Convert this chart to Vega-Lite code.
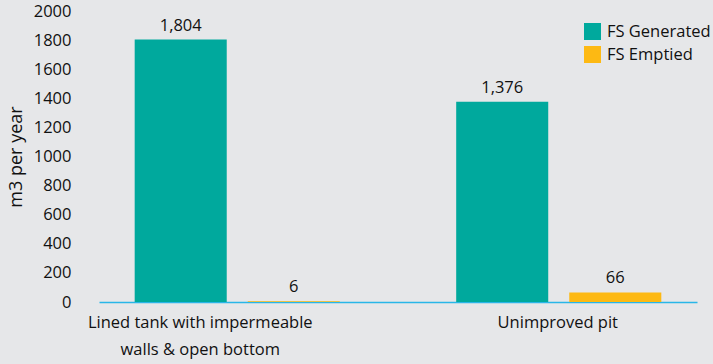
{
  "$schema": "https://vega.github.io/schema/vega-lite/v6.json",
  "width": 598,
  "height": 291,
  "autosize": "none",
  "padding": {"left": 99, "top": 11, "right": 16, "bottom": 62},
  "background": "#e6e7e9",
  "config": {
    "view": {"stroke": null},
    "font": "Open Sans",
    "axis": {"labelFont": "Open Sans", "titleFont": "Open Sans", "labelColor": "#111111", "titleColor": "#111111"},
    "legend": {"labelFont": "Open Sans", "labelColor": "#111111"}
  },
  "data": {
    "values": [
      {"type": "Lined tank with impermeable|walls & open bottom", "series": "FS Generated", "value": 1804},
      {"type": "Lined tank with impermeable|walls & open bottom", "series": "FS Emptied", "value": 6},
      {"type": "Unimproved pit", "series": "FS Generated", "value": 1376},
      {"type": "Unimproved pit", "series": "FS Emptied", "value": 66}
    ]
  },
  "encoding": {
    "x": {
      "field": "type",
      "type": "nominal",
      "sort": null,
      "scale": {"paddingInner": 0.362, "paddingOuter": 0.111},
      "axis": {
        "title": null,
        "labelAngle": 0,
        "ticks": false,
        "domainColor": "#29b6e8",
        "domainWidth": 1.5,
        "labelFontSize": 16.5,
        "labelPadding": 12,
        "labelLineHeight": 27,
        "labelBaseline": "top",
        "labelLimit": 0,
        "labelExpr": "split(datum.label, '|')",
        "labelOffset": {"condition": {"test": "indexof(datum.value, 'Lined') == 0", "value": -37}, "value": -1}
      }
    },
    "xOffset": {
      "field": "series",
      "type": "nominal",
      "sort": ["FS Generated", "FS Emptied"],
      "scale": {"paddingInner": 0.186, "paddingOuter": 0}
    },
    "y": {
      "field": "value",
      "type": "quantitative",
      "scale": {"domain": [0, 2000], "nice": false},
      "axis": {
        "title": "m3 per year",
        "values": [0, 200, 400, 600, 800, 1000, 1200, 1400, 1600, 1800, 2000],
        "format": "d",
        "grid": false,
        "domain": false,
        "ticks": false,
        "labelFontSize": 16.5,
        "labelPadding": 28,
        "titleFontSize": 18,
        "titleFontWeight": "normal",
        "titlePadding": 8
      }
    }
  },
  "layer": [
    {
      "mark": {"type": "bar"},
      "encoding": {
        "color": {
          "field": "series",
          "type": "nominal",
          "sort": ["FS Generated", "FS Emptied"],
          "scale": {"domain": ["FS Generated", "FS Emptied"], "range": ["#00a99d", "#fdb913"]},
          "legend": {
            "title": null,
            "orient": "none",
            "legendX": 485,
            "legendY": 12,
            "symbolType": "square",
            "symbolSize": 289,
            "symbolStrokeWidth": 0,
            "labelFontSize": 16.5,
            "rowPadding": 6,
            "labelOffset": 6
          }
        }
      }
    },
    {
      "mark": {"type": "text", "baseline": "bottom", "dy": -6, "fontSize": 16.5, "color": "#111111"},
      "encoding": {
        "text": {"field": "value", "type": "quantitative", "format": ","}
      }
    }
  ]
}
